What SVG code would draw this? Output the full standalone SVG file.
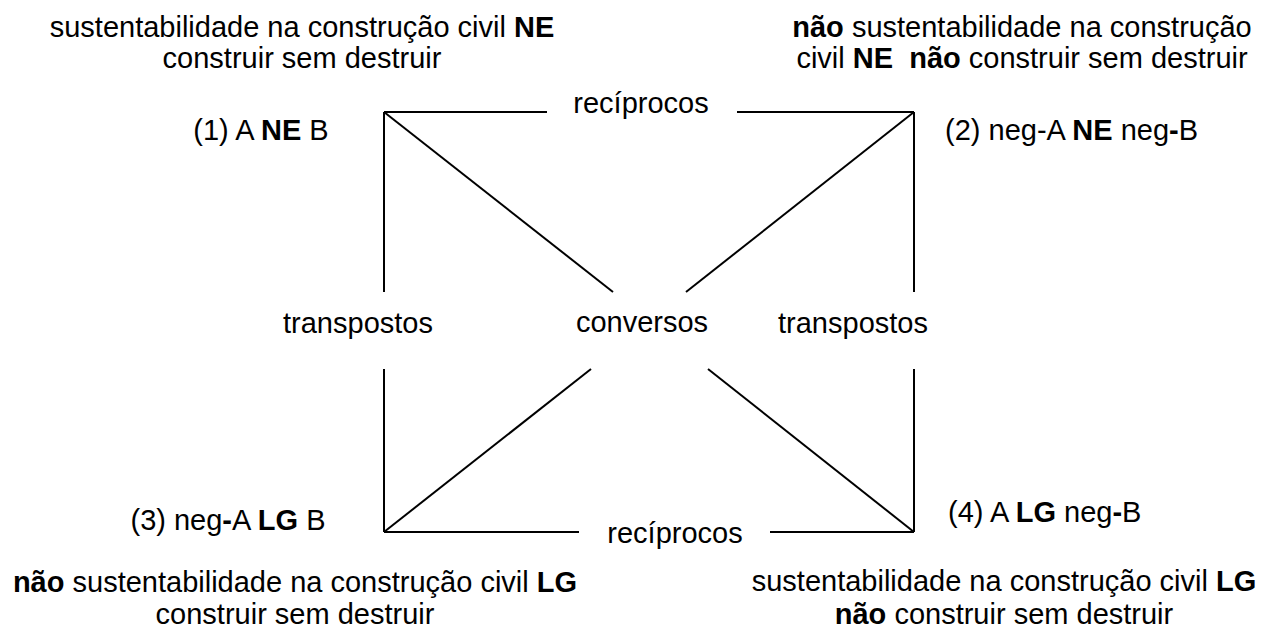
<svg xmlns="http://www.w3.org/2000/svg" width="1272" height="632" viewBox="0 0 1272 632">
<style>
text{font-family:"Liberation Sans",Arial,sans-serif;font-size:29px;fill:#000}
.b{font-weight:bold}
.m{text-anchor:middle}
line{stroke:#000;stroke-width:2}
</style>
<rect width="1272" height="632" fill="#fff"/>
<g id="connectors">
<line x1="384" y1="112" x2="547" y2="112"/>
<line x1="737" y1="112" x2="914" y2="112"/>
<line x1="384" y1="532" x2="579" y2="532"/>
<line x1="770" y1="532" x2="914" y2="532"/>
<line x1="384" y1="112" x2="384" y2="292"/>
<line x1="384" y1="369" x2="384" y2="532"/>
<line x1="914" y1="112" x2="914" y2="292"/>
<line x1="914" y1="369" x2="914" y2="532"/>
<line x1="384" y1="112" x2="613" y2="292"/>
<line x1="914" y1="112" x2="686" y2="292"/>
<line x1="384" y1="532" x2="591" y2="369"/>
<line x1="914" y1="532" x2="708" y2="369"/>
</g>
<g id="label-reciprocos-top"><text class="m" x="641" y="113">recíprocos</text></g>
<g id="label-reciprocos-bottom"><text class="m" x="675" y="543">recíprocos</text></g>
<g id="label-transpostos-left"><text class="m" x="358" y="333">transpostos</text></g>
<g id="label-conversos"><text class="m" x="642" y="332">conversos</text></g>
<g id="label-transpostos-right"><text class="m" x="853" y="333">transpostos</text></g>
<g id="node1">
<text class="m" x="302" y="37">sustentabilidade na construção civil <tspan class="b">NE</tspan></text>
<text class="m" x="302" y="68">construir sem destruir</text>
<text class="m" x="261" y="140">(1) A <tspan class="b">NE</tspan> B</text>
</g>
<g id="node2">
<text class="m" x="1022" y="37"><tspan class="b">não</tspan> sustentabilidade na construção</text>
<text class="m" x="1022" y="68">civil <tspan class="b">NE</tspan>&#160; <tspan class="b">não</tspan> construir sem destruir</text>
<text x="945" y="140">(2) neg-A <tspan class="b">NE</tspan> neg<tspan class="b">-</tspan>B</text>
</g>
<g id="node3">
<text class="m" x="228" y="530">(3) neg<tspan class="b">-</tspan>A <tspan class="b">LG</tspan> B</text>
<text class="m" x="295" y="592"><tspan class="b">não</tspan> sustentabilidade na construção civil <tspan class="b">LG</tspan></text>
<text class="m" x="295" y="624">construir sem destruir</text>
</g>
<g id="node4">
<text x="948" y="522">(4) A <tspan class="b">LG</tspan> neg<tspan class="b">-</tspan>B</text>
<text class="m" x="1004" y="591">sustentabilidade na construção civil <tspan class="b">LG</tspan></text>
<text class="m" x="1004" y="624"><tspan class="b">não</tspan> construir sem destruir</text>
</g>
</svg>
